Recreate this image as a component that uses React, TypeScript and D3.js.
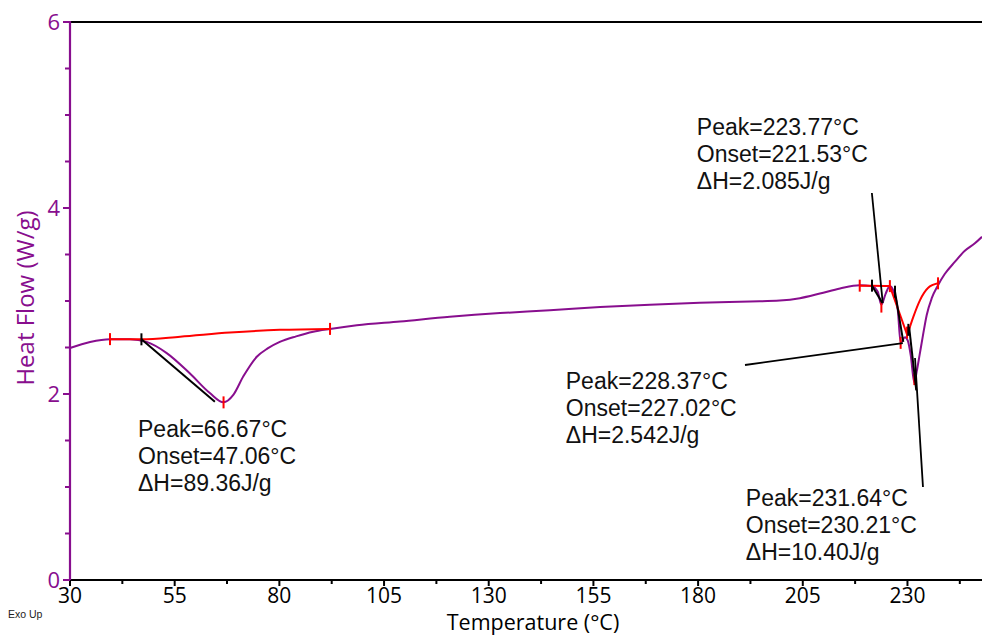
import React from "react";
import * as d3 from "d3";

// DSC scan: temperature (°C) and heat flow (W/g)
const tempC = [
  30, 34.8, 39.55, 44.3, 48.3, 53.1, 58.65, 63.4, 66.67, 69.0, 71.4, 74.6, 77.2, 80.1, 84.0,
  88.1, 92.1, 98.5, 108.8, 120.7, 132.7, 144.6, 156.6, 168.5, 180.4, 192.4, 199.5, 204.3,
  209.1, 213.9, 218.6, 221.5, 222.9, 223.77, 224.8, 225.8, 226.7, 227.7, 228.37, 229.4,
  230.1, 230.8, 231.64, 232.2, 232.9, 233.7, 234.6, 235.8, 237.3, 238.9, 241.3, 243.7,
  246.1, 247.8,
];
const heatFlow = [
  2.495, 2.56, 2.59, 2.59, 2.56, 2.44, 2.22, 2.01, 1.91, 1.99, 2.19, 2.4, 2.49, 2.56, 2.62,
  2.67, 2.7, 2.74, 2.78, 2.83, 2.87, 2.9, 2.935, 2.96, 2.98, 2.995, 3.005, 3.03,
  3.08, 3.135, 3.17, 3.16, 3.1, 2.96, 3.08, 3.16, 3.1, 2.9, 2.55, 2.61,
  2.57, 2.41, 2.12, 2.24, 2.42, 2.63, 2.85, 3.03, 3.17, 3.29, 3.42, 3.54,
  3.62, 3.69,
];

// Integration baselines [T, W/g]
const baselines: [number, number][][] = [
  [[39.55, 2.59], [47.1, 2.588], [56.3, 2.616], [68.2, 2.66], [80.1, 2.69], [92.1, 2.7]],
  [[218.6, 3.165], [221.5, 3.165], [225.8, 3.16]],
  [[225.8, 3.16], [229.9, 2.64]],
  [[230.2, 2.67], [231.4, 2.83], [233.0, 3.01], [234.9, 3.14], [237.3, 3.19]],
];
// Red limit / peak markers
const markerPoints: [number, number][] = [
  [39.55, 2.59], [92.1, 2.7], [66.67, 1.91],
  [218.6, 3.165], [225.8, 3.16], [223.77, 2.94],
  [228.37, 2.55], [229.9, 2.66], [231.64, 2.16], [237.3, 3.19],
];
// Onset markers and tangent lines
const onsetPoints: [number, number][] = [
  [47.06, 2.588], [221.53, 3.165], [227.02, 3.1], [230.21, 2.69],
];
const tangents: [number, number][][] = [
  [[47.06, 2.588], [64.6, 1.917]],
  [[221.53, 3.165], [224.0, 2.98]],
  [[227.02, 3.1], [229.0, 2.56]],
  [[230.4, 2.72], [232.1, 2.04]],
];
// Leader lines from labels to peaks
const leaders: [number, number][][] = [
  [[221.5, 4.161], [224.1, 2.978]],
  [[191.2, 2.312], [228.9, 2.548]],
  [[231.8, 2.387], [233.7, 1.0]],
];

const peakLabels = ["Peak=66.67°C", "Peak=223.77°C", "Peak=228.37°C", "Peak=231.64°C"];
const onsetLabels = ["Onset=47.06°C", "Onset=221.53°C", "Onset=227.02°C", "Onset=230.21°C"];
const enthalpyLabels = ["ΔH=89.36J/g", "ΔH=2.085J/g", "ΔH=2.542J/g", "ΔH=10.40J/g"];
const labelAnchors: [number, number][] = [
  [46.24, 1.538], [179.7, 4.785], [148.4, 2.054], [191.4, 0.796],
];

const xTicks = d3.range(30, 247, 12.5);
const yTicks = d3.range(0, 6.01, 0.5);

const W = 982;
const H = 638;
const PURPLE = "#880e8e";
const AXIS_FONT = "'Open Sans', 'DejaVu Sans', sans-serif";
const NOTE_FONT = "'Liberation Sans', Arial, sans-serif";

export default function App() {
  const x = d3.scaleLinear().domain([30, 247.8]).range([70, 982]);
  const y = d3.scaleLinear().domain([0, 6]).range([580, 22]);

  const pts: [number, number][] = tempC.map((t, i) => [t, heatFlow[i]]);
  const smooth = d3
    .line<[number, number]>()
    .x((d) => x(d[0]))
    .y((d) => y(d[1]))
    .curve(d3.curveMonotoneX);
  const straight = d3
    .line<[number, number]>()
    .x((d) => x(d[0]))
    .y((d) => y(d[1]));

  return (
    <svg
      width={W}
      height={H}
      style={{ position: "absolute", left: 0, top: 0, background: "#fff" }}
    >
      {/* heat flow curve */}
      <path d={smooth(pts) || ""} fill="none" stroke={PURPLE} strokeWidth={2} />

      {/* baselines */}
      {baselines.map((b, i) => (
        <path key={"b" + i} d={smooth(b) || ""} fill="none" stroke="#ff0000" strokeWidth={2} />
      ))}
      {markerPoints.map((p, i) => (
        <line
          key={"m" + i}
          x1={x(p[0])}
          x2={x(p[0])}
          y1={y(p[1]) - 6}
          y2={y(p[1]) + 6}
          stroke="#ff0000"
          strokeWidth={2}
        />
      ))}

      {/* onset construction */}
      {tangents.map((t, i) => (
        <path key={"t" + i} d={straight(t) || ""} fill="none" stroke="#000" strokeWidth={2} />
      ))}
      {onsetPoints.map((p, i) => (
        <line
          key={"o" + i}
          x1={x(p[0])}
          x2={x(p[0])}
          y1={y(p[1]) - 6}
          y2={y(p[1]) + 6}
          stroke="#000"
          strokeWidth={2}
        />
      ))}
      {leaders.map((l, i) => (
        <path key={"l" + i} d={straight(l) || ""} fill="none" stroke="#000" strokeWidth={1.8} />
      ))}

      {/* annotations */}
      {labelAnchors.map((a, i) => (
        <text
          key={"a" + i}
          x={x(a[0])}
          y={y(a[1])}
          fontFamily={NOTE_FONT}
          fontSize={23}
          fill="#111"
        >
          <tspan x={x(a[0])} dy={0}>{peakLabels[i]}</tspan>
          <tspan x={x(a[0])} dy={27}>{onsetLabels[i]}</tspan>
          <tspan x={x(a[0])} dy={27}>{enthalpyLabels[i]}</tspan>
        </text>
      ))}

      {/* frame */}
      <line x1={70} x2={W} y1={y(6)} y2={y(6)} stroke="#000" strokeWidth={2} />
      <line x1={70} x2={W} y1={y(0)} y2={y(0)} stroke="#000" strokeWidth={2} />
      <line x1={x(30)} x2={x(30)} y1={y(6) - 1} y2={y(0) + 1} stroke={PURPLE} strokeWidth={2.2} />

      {/* x axis */}
      {xTicks.map((t, i) => {
        const major = i % 2 === 0;
        return (
          <g key={"xt" + i}>
            <line
              x1={x(t)}
              x2={x(t)}
              y1={y(0)}
              y2={y(0) + (major ? 6 : 4)}
              stroke="#000"
              strokeWidth={2}
            />
            {major && (
              <text
                x={x(t)}
                y={603}
                textAnchor="middle"
                fontFamily={AXIS_FONT}
                fontSize={21}
                fill="#000"
              >
                {t}
              </text>
            )}
          </g>
        );
      })}
      <text
        x={533}
        y={630}
        textAnchor="middle"
        fontFamily={AXIS_FONT}
        fontSize={21.5}
        fill="#000"
      >
        Temperature (°C)
      </text>

      {/* y axis */}
      {yTicks.map((v, i) => {
        const major = i % 4 === 0;
        return (
          <g key={"yt" + i}>
            <line
              x1={x(30) - (major ? 7 : 5)}
              x2={x(30)}
              y1={y(v)}
              y2={y(v)}
              stroke={PURPLE}
              strokeWidth={2}
            />
            {major && (
              <text
                x={60}
                y={y(v) + 8}
                textAnchor="end"
                fontFamily={AXIS_FONT}
                fontSize={22}
                fill={PURPLE}
              >
                {v}
              </text>
            )}
          </g>
        );
      })}
      <text
        transform={`translate(34, 298) rotate(-90)`}
        textAnchor="middle"
        fontFamily={AXIS_FONT}
        fontSize={24}
        fill={PURPLE}
      >
        Heat Flow (W/g)
      </text>

      <text x={8} y={618} fontFamily={NOTE_FONT} fontSize={10.5} fill="#222">
        Exo Up
      </text>
    </svg>
  );
}
